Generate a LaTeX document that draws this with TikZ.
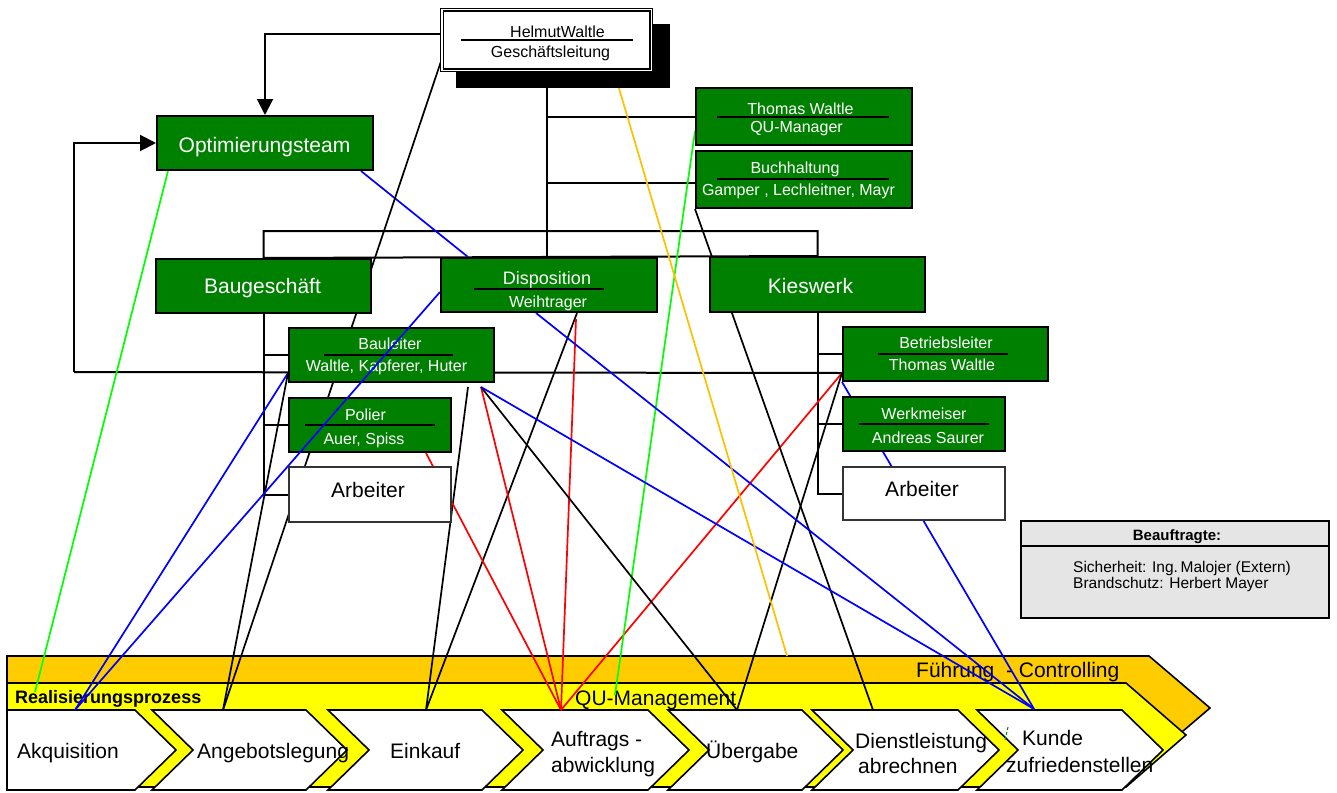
\documentclass[tikz,border=0pt]{standalone}
\usepackage{fontspec}
\setmainfont{Liberation Sans}
\usetikzlibrary{arrows.meta}
\definecolor{orggreen}{HTML}{008000}
\definecolor{bandorange}{HTML}{FFCC00}
\definecolor{bandyellow}{HTML}{FFFF00}
\definecolor{lineorange}{HTML}{FFC000}
\definecolor{linegreen}{HTML}{00FF00}
\pgfdeclarelayer{back}
\pgfdeclarelayer{wires}
\pgfsetlayers{back,wires,main}
\tikzset{
  gbox/.style={draw=black, line width=2pt, fill=orggreen, inner sep=0pt},
  wbox/.style={draw=black!80, line width=2pt, fill=white, inner sep=0pt},
  txtbig/.style={font=\fontsize{21}{21}\selectfont},
  txtsmall/.style={font=\fontsize{16}{16}\selectfont},
  txt/.style={inner sep=0pt, anchor=base},
  txtl/.style={inner sep=0pt, anchor=base west},
  treeline/.style={line width=2pt},
  wireline/.style={line width=1.7pt},
  textrule/.style={line width=1.4pt},
  chev/.style={draw=black, line width=1.6pt, fill=white},
  bigarrow/.style={-{Triangle[length=16pt,width=16pt]}},
}
\begin{document}
\begin{tikzpicture}[x=1pt, y=-1pt]
\useasboundingbox (0,0) rectangle (1337,792);

% Leitung
\node[fill=black, minimum width=214pt, minimum height=64pt, inner sep=0pt] (chefsh) at (563,56) {};
\node[draw=black, line width=1.2pt, double=white, double distance=1.5pt, fill=white,
      minimum width=209.5pt, minimum height=60.5pt, inner sep=0pt] (chef) at (546.5,40) {};
\node[txt, txtsmall] (chef-a) at (557.5,37.5) {HelmutWaltle};
\node[txt, txtsmall] (chef-b) at (550.5,57) {Geschäftsleitung};
\draw[textrule] (461,40) -- (633,40);

\node[gbox, minimum width=216pt, minimum height=54pt] (opt) at (265,143) {};
\node[txt, txtbig, white] (opt-a) at (264.5,152) {Optimierungsteam};

\node[gbox, minimum width=216pt, minimum height=57pt] (qum) at (804,116.5) {};
\node[txt, txtsmall, white] (qum-a) at (800.5,114) {Thomas Waltle};
\node[txt, txtsmall, white] (qum-b) at (796.5,132) {QU-Manager};
\draw[textrule] (717,117) -- (889,117);

\node[gbox, minimum width=216pt, minimum height=57pt] (buch) at (804,179.5) {};
\node[txt, txtsmall, white] (buch-a) at (795,173) {Buchhaltung};
\node[txt, txtsmall, white] (buch-b) at (798.5,195) {Gamper , Lechleitner, Mayr};
\draw[textrule] (717,179) -- (889,179);

% Bereiche
\node[gbox, minimum width=215pt, minimum height=54pt] (bau) at (263.5,286) {};
\node[txt, txtbig, white] (bau-a) at (262.5,293) {Baugeschäft};

\node[gbox, minimum width=216pt, minimum height=54pt] (disp) at (549,285) {};
\node[txt, white, font=\fontsize{18}{18}\selectfont] (disp-a) at (547,284) {Disposition};
\node[txt, txtsmall, white] (disp-b) at (548,307) {Weihtrager};
\draw[textrule] (474,289) -- (604,289);

\node[gbox, minimum width=215pt, minimum height=55pt] (kies) at (817.5,284.5) {};
\node[txt, txtbig, white] (kies-a) at (810.5,293) {Kieswerk};

% Baugeschaeft
\node[gbox, minimum width=205pt, minimum height=54pt] (bl) at (391.5,355) {};
\node[txt, txtsmall, white] (bl-a) at (390,349) {Bauleiter};
\node[txt, txtsmall, white] (bl-b) at (386.5,371) {Waltle, Kapferer, Huter};
\draw[textrule] (324,355) -- (453,355);

\node[gbox, minimum width=162pt, minimum height=54pt] (pol) at (370,425) {};
\node[txt, txtsmall, white] (pol-a) at (365.5,420) {Polier};
\node[txt, txtsmall, white] (pol-b) at (364,444) {Auer, Spiss};
\draw[textrule] (305,425) -- (435,425);

\node[wbox, minimum width=162pt, minimum height=55pt] (arbL) at (370,494.5) {};
\node[txt, txtbig] (arbL-a) at (368,497) {Arbeiter};

% Kieswerk
\node[gbox, minimum width=205pt, minimum height=54pt] (betr) at (945.5,354) {};
\node[txt, txtsmall, white] (betr-a) at (946,348) {Betriebsleiter};
\node[txt, txtsmall, white] (betr-b) at (942,370) {Thomas Waltle};
\draw[textrule] (878,354) -- (1008,354);

\node[gbox, minimum width=162pt, minimum height=54pt] (werk) at (924,424) {};
\node[txt, txtsmall, white] (werk-a) at (924,419) {Werkmeiser};
\node[txt, txtsmall, white] (werk-b) at (928,443) {Andreas Saurer};
\draw[textrule] (859,424) -- (989,424);

\node[wbox, minimum width=162pt, minimum height=53pt] (arbR) at (924,493.5) {};
\node[txt, txtbig] (arbR-a) at (922,496) {Arbeiter};

% Beauftragte
\node[draw=black, line width=2pt, fill=gray!20, minimum width=308pt, minimum height=97pt, inner sep=0pt] (beauf) at (1175,569.5) {};
\draw[line width=1.8pt] ([yshift=-26pt]beauf.north west) -- ([yshift=-26pt]beauf.north east);
\node[txt, font=\fontsize{15}{15}\selectfont\bfseries] (beauf-a) at (1177,540) {Beauftragte:};
\node[txtl, font=\fontsize{15.5}{15.5}\selectfont] (beauf-b) at (1073,572) {Sicherheit: Ing.\,Malojer (Extern)};
\node[txtl, font=\fontsize{15.5}{15.5}\selectfont] (beauf-c) at (1073,588) {Brandschutz: Herbert Mayer};

% Prozesse
\begin{pgfonlayer}{back}
\draw[line width=1.6pt, fill=bandorange] (7,656) -- (1149,656) -- (1210,708) -- (1149,760) -- (7,760) -- cycle;
\draw[line width=1.6pt, fill=bandyellow] (7,683) -- (1126,683) -- (1186,735) -- (1126,787) -- (7,787) -- cycle;
\draw[chev] (7,710) -- (135,710) -- (176,750) -- (135,790) -- (7,790) -- cycle;
\foreach \l/\r in {152/306, 328/482, 502/648, 668/802, 812/958, 977/1122}
  \draw[chev] (\l,710) -- (\r,710) -- (\r+41,750) -- (\r,790) -- (\l,790) -- (\l+41,750) -- cycle;
\node[txtl, txtbig] (fuehr-t) at (916,677) {Führung\ \ - Controlling};
\node[txtl, font=\fontsize{18}{18}\selectfont\bfseries] (real-t) at (15,703) {Realisierungsprozess};
\node[txtl, txtbig] (qu-t) at (575,705) {QU-Management};
\node[txtl, txtbig] (akq-t) at (17,758) {Akquisition};
\node[txtl, txtbig] (angeb-t) at (197,758) {Angebotslegung};
\node[txtl, txtbig] (eink-t) at (390,758) {Einkauf};
\node[txtl, txtbig] (auftr-a) at (551,746) {Auftrags -};
\node[txtl, txtbig] (auftr-b) at (551,772) {abwicklung};
\node[txtl, txtbig] (uebg-t) at (706,758) {Übergabe};
\node[txtl, txtbig] (dienst-a) at (855,748) {Dienstleistung};
\node[txtl, txtbig] (dienst-b) at (858,773) {abrechnen};
\node[txtl, txtbig] (kunde-a) at (1022,745) {Kunde};
\node[txtl, txtbig] (kunde-b) at (1006,772) {zufriedenstellen};
\draw[green!50!black, line width=1pt, dash pattern=on 3pt off 2pt] (1008,727) -- (1005,740);
\end{pgfonlayer}

\coordinate (akq) at (75,710);
\coordinate (angeb) at (223,710);
\coordinate (eink) at (426,710);
\coordinate (auftr) at (561,710);
\coordinate (uebg) at (737,710);
\coordinate (dienst) at (873,710);
\coordinate (kunde) at (1034,709);
\coordinate (realend) at (35,692);
\coordinate (quend) at (615,695);
\coordinate (fuehrend) at (787,656);
\coordinate (loop) at (74,372);

% Organigramm-Linien
\begin{pgfonlayer}{wires}
\draw[treeline] (chef.south) -- (chef.south |- disp.north);
\draw[treeline] (chef.south |- qum.west) -- (qum.west);
\draw[treeline] ([yshift=-3.5pt]buch.west) -- (chef.south |- 0,183);
\draw[treeline] (bau.north) -- ++(0,-27) -| (kies.north) -- (bau.north);
\draw[treeline] (bau.south) |- (arbL.west);
\draw[treeline] (bau.south |- bl.west) -- (bl.west);
\draw[treeline] (bau.south |- pol.west) -- (pol.west);
\draw[treeline] (kies.south) |- (arbR.west);
\draw[treeline] (kies.south |- betr.west) -- (betr.west);
\draw[treeline] (kies.south |- werk.west) -- (werk.west);
\draw[treeline] ([yshift=9pt]betr.south west) -- (loop);
\draw[treeline, bigarrow] (loop) |- (opt.west);
\draw[treeline, bigarrow] ([yshift=6pt]chef.west) -| (opt.north);

% Zuordnung zu den Prozessen
\draw[wireline, linegreen] ([xshift=12pt]opt.south west) -- (realend);
\draw[wireline, blue] ([xshift=-13pt]opt.south east) -- ([xshift=28pt]disp.north west);
\draw[wireline, blue] ([yshift=10pt]bl.south west) -- (akq);
\draw[wireline] ([yshift=10pt]bl.south west) -- (angeb);
\draw[wireline] ([yshift=10pt]chef.south west) -- (angeb);
\draw[wireline] ([shift={(-27pt,-4pt)}]bl.south east) -- (eink);
\draw[wireline] ([xshift=-81pt]disp.south east) -- (eink);
\draw[wireline, red] ([xshift=-26pt]pol.south east) -- (auftr);
\draw[wireline, red] ([shift={(-14pt,-4pt)}]bl.south east) -- (auftr);
\draw[wireline, red] ([shift={(-82pt,-6pt)}]disp.south east) -- (auftr);
\draw[wireline, red] ([yshift=9pt]betr.south west) -- (auftr);
\draw[wireline, linegreen] ([yshift=15pt]qum.south west) -- (quend);
\draw[wireline] ([shift={(-14pt,-4pt)}]bl.south east) -- (uebg);
\draw[wireline] ([yshift=9pt]betr.south west) -- (uebg);
\draw[wireline] (buch.south west) -- (dienst);
\draw[wireline, blue] ([xshift=96pt]disp.south west) -- (kunde);
\draw[wireline, blue] ([shift={(-14pt,-4pt)}]bl.south east) -- (kunde);
\draw[wireline, blue] (betr.south west) -- (kunde);
\draw[wireline, lineorange] ([xshift=-38pt]chef.south east) -- (fuehrend);
\end{pgfonlayer}
\draw[wireline, blue] ([yshift=21pt]disp.south west) -- (akq);
\end{tikzpicture}
\end{document}
